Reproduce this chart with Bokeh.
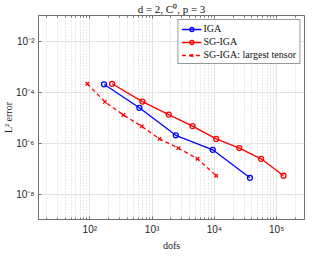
from bokeh.plotting import figure
from bokeh.models import (Range1d, FixedTicker, LogAxis, Legend, LegendItem, ColumnDataSource, Title)
from bokeh.embed import file_html
from bokeh.resources import INLINE

# ---- data ----
iga_dofs = [169, 625, 2401, 9409, 37249]
iga_err = [2.0e-4, 2.4e-5, 2.0e-6, 5.4e-7, 4.3e-8]

sg_dofs = [228, 700, 1850, 4460, 10700, 25100, 56300, 129000]
sg_err = [2.1e-4, 4.2e-5, 1.3e-5, 4.6e-6, 1.45e-6, 6.3e-7, 2.4e-7, 5.2e-8]

lt_dofs = [91, 175, 345, 682, 1320, 2640, 5360, 10700]
lt_err = [2.1e-4, 4.1e-5, 1.26e-5, 4.5e-6, 1.45e-6, 6.3e-7, 2.4e-7, 5.2e-8]

x_ticks = [1e2, 1e3, 1e4, 1e5]
x_tick_labels = ["10²", "10³", "10⁴", "10⁵"]
y_ticks = [1e-8, 1e-6, 1e-4, 1e-2]
y_tick_labels = ["10⁻⁸", "10⁻⁶", "10⁻⁴", "10⁻²"]

x_minor = [m * 10 ** k for k in range(1, 6) for m in range(2, 10)]

SERIF = "Liberation Serif"
SANS = "Liberation Sans"
AX = "#707070"

p = figure(width=308, height=250, x_axis_type="log", y_axis_type="log",
           x_range=Range1d(15, 2.8e5), y_range=Range1d(1e-9, 1e-1),
           output_backend="svg", toolbar_location=None,
           min_border_left=0, min_border_right=4, min_border_top=0, min_border_bottom=0)

p.title.text = "d = 2, C⁰, p = 3"
p.title.align = "center"
p.title.text_font = SERIF
p.title.text_font_style = "normal"
p.title.text_font_size = "11px"
p.title.text_color = "#111111"
p.title.standoff = 1
p.title.offset = 0

p.xaxis.ticker = FixedTicker(ticks=x_ticks, minor_ticks=x_minor)
p.yaxis.ticker = FixedTicker(ticks=y_ticks, minor_ticks=[])
p.xaxis.major_label_overrides = dict(zip(x_ticks, x_tick_labels))
p.yaxis.major_label_overrides = dict(zip(y_ticks, y_tick_labels))

for ax in [p.xaxis[0], p.yaxis[0]]:
    ax.major_label_text_font = SANS
    ax.major_label_text_font_size = "10px"
    ax.major_label_text_color = "#262626"
    ax.major_label_standoff = 4
    ax.axis_line_color = AX
    ax.major_tick_line_color = AX
    ax.minor_tick_line_color = AX
    ax.major_tick_in = 3
    ax.major_tick_out = 0
    ax.minor_tick_in = 2
    ax.minor_tick_out = 0

# top axis (ticks only)
top = LogAxis(ticker=FixedTicker(ticks=x_ticks, minor_ticks=x_minor),
              major_label_overrides={t: "" for t in x_ticks})
top.axis_line_color = AX
top.major_tick_line_color = AX
top.minor_tick_line_color = AX
top.major_tick_in = 3
top.major_tick_out = 0
top.minor_tick_in = 2
top.minor_tick_out = 0
top.major_label_standoff = 0
top.major_label_text_font_size = "1px"
p.add_layout(top, "above")

p.outline_line_color = AX

p.xgrid.grid_line_color = "#e3e3e3"
p.ygrid.grid_line_color = "#e3e3e3"
p.xgrid.minor_grid_line_color = "#d0d0d0"
p.xgrid.minor_grid_line_dash = "1 2"

# axis titles
xt = Title(text="dofs", align="center", text_font=SERIF, text_font_style="normal",
           text_font_size="10px", text_color="#222222", standoff=0, offset=0)
yt = Title(text="L² error", align="center", text_font=SERIF, text_font_style="normal",
           text_font_size="10px", text_color="#222222", standoff=0, offset=0)
p.add_layout(xt, "below")
p.add_layout(yt, "left")

blue = "#0000ff"
red = "#ff0000"

s_iga = ColumnDataSource(dict(x=iga_dofs, y=iga_err))
s_sg = ColumnDataSource(dict(x=sg_dofs, y=sg_err))
s_lt = ColumnDataSource(dict(x=lt_dofs, y=lt_err))

l1 = p.line("x", "y", source=s_iga, line_color=blue, line_width=1.3)
m1 = p.scatter("x", "y", source=s_iga, marker="circle", size=5, line_color=blue,
               fill_color=None, line_width=1.3)
l2 = p.line("x", "y", source=s_sg, line_color=red, line_width=1.3)
m2 = p.scatter("x", "y", source=s_sg, marker="circle", size=5, line_color=red,
               fill_color=None, line_width=1.3)
l3 = p.line("x", "y", source=s_lt, line_color=red, line_width=1.3, line_dash="4 3")
m3 = p.scatter("x", "y", source=s_lt, marker="x", size=5, line_color=red, line_width=1.3)

legend = Legend(items=[
    LegendItem(label="IGA", renderers=[l1, m1]),
    LegendItem(label="SG-IGA", renderers=[l2, m2]),
    LegendItem(label="SG-IGA: largest tensor", renderers=[l3, m3]),
], location="top_right")
legend.label_text_font = SERIF
legend.label_text_font_size = "10px"
legend.label_text_color = "#111111"
legend.label_height = 10
legend.label_standoff = 2
legend.glyph_width = 20
legend.glyph_height = 10
legend.spacing = 2
legend.padding = 3
legend.margin = 4
legend.border_line_color = "#333333"
legend.border_line_width = 0.8
legend.background_fill_alpha = 1.0
p.add_layout(legend)

open("out.html", "w").write(file_html(p, INLINE))
